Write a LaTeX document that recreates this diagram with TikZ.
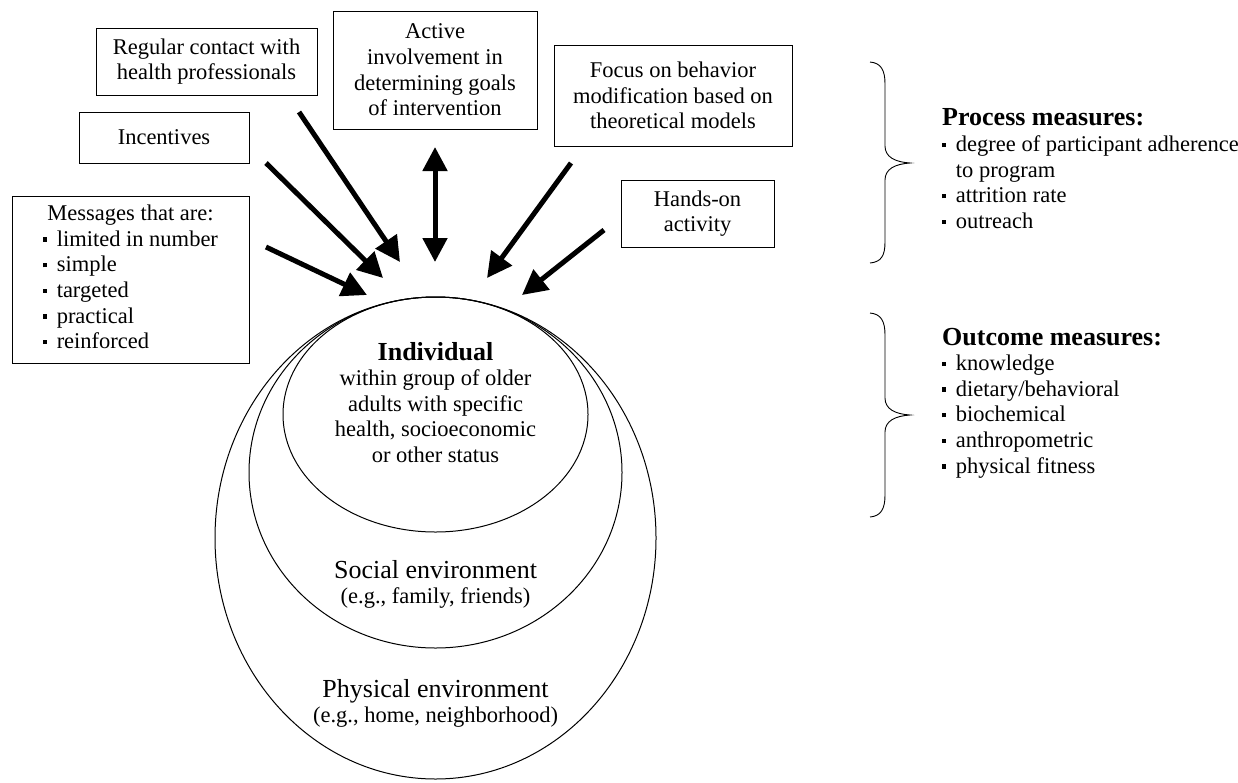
\documentclass[tikz,border=0pt]{standalone}
\usepackage{fontspec}
\setmainfont{Liberation Serif}
\usetikzlibrary{arrows.meta,shapes.geometric}
\newcommand\sqb{\rule[0.2em]{0.19em}{0.19em}\hspace{0.42em}}
\newcommand\hdsize{\fontsize{26}{26}\selectfont}
\begin{document}
\begin{tikzpicture}[x=1pt,y=-1pt,
  txt/.style={font=\fontsize{22.5}{25.6}\selectfont, inner sep=0pt},
  boxn/.style={draw, line width=0.9pt, txt, align=center},
  ring/.style={draw, line width=1pt, ellipse, inner sep=0pt},
  arr/.style={line width=5pt, -{Triangle[length=25pt,width=25pt]}},
  darr/.style={line width=5pt, {Triangle[length=24pt,width=24pt]}-{Triangle[length=24pt,width=24pt]}},
  curly/.style={line width=0.9pt}]
\useasboundingbox (0,0) rectangle (1238,782);

% boxes
\node[boxn, minimum width=221pt, minimum height=67pt] (reg) at (206.5,61.5)
  {Regular contact with\\health professionals};
\node[boxn, minimum width=170pt, minimum height=51pt] (inc) at (164,137.5) {Incentives};
\node[boxn, minimum width=237pt, minimum height=167pt] (msg) at (130.5,279.5)
  {\begin{tabular}{@{}l@{}}\multicolumn{1}{@{}c@{}}{Messages that are:}\\
   \sqb limited in number\\ \sqb simple\\ \sqb targeted\\ \sqb practical\\ \sqb reinforced\end{tabular}};
\node[boxn, minimum width=204pt, minimum height=118pt] (act) at (435,70)
  {Active\\involvement in\\determining goals\\of intervention};
\node[boxn, minimum width=238pt, minimum height=101pt] (foc) at (673,95.5)
  {Focus on behavior\\modification based on\\theoretical models};
\node[boxn, minimum width=153pt, minimum height=67pt] (hnd) at (697.5,213.5)
  {Hands-on\\activity};

% ellipses
\node[ring, minimum width=441pt, minimum height=482pt] (outer) at (435.5,538) {};
\node[ring, minimum width=373pt, minimum height=351pt] (middle) at (435.5,472.5) {};
\node[ring, minimum width=305pt, minimum height=235pt] (inner) at (435.5,414.5) {};

\node[txt, anchor=base] (indtxt) at (435.5,360)
  {\begin{tabular}[t]{@{}c@{}}{\hdsize\bfseries Individual}\\within group of older\\adults with specific\\health, socioeconomic\\or other status\end{tabular}};
\node[txt, anchor=base] (soctxt) at (435.5,578)
  {\begin{tabular}[t]{@{}c@{}}{\hdsize Social environment}\\(e.g., family, friends)\end{tabular}};
\node[txt, anchor=base] (phytxt) at (435.5,697)
  {\begin{tabular}[t]{@{}c@{}}{\hdsize Physical environment}\\(e.g., home, neighborhood)\end{tabular}};

% arrows
\coordinate (regS) at (299,112);  \coordinate (regT) at (400,262);
\coordinate (incS) at (266,163);  \coordinate (incT) at (383,278);
\coordinate (msgS) at (266,247);  \coordinate (msgT) at (367,295);
\coordinate (actS) at (435,147);  \coordinate (actT) at (435,262);
\coordinate (focS) at (571,163);  \coordinate (focT) at (487,278);
\coordinate (hndS) at (604,230);  \coordinate (hndT) at (522,295);
\draw[arr] (regS) -- (regT);
\draw[arr] (incS) -- (incT);
\draw[arr] (msgS) -- (msgT);
\draw[darr] (actS) -- (actT);
\draw[arr] (focS) -- (focT);
\draw[arr] (hndS) -- (hndT);

% braces
\draw[curly] (870,62) .. controls (881,63) and (885,70) .. (885,84) -- (885,146)
  .. controls (885,157) and (895,162) .. (910,163)
  .. controls (895,164) and (885,169) .. (885,180) -- (885,242)
  .. controls (885,256) and (881,262) .. (870,263);
\draw[curly] (870,313) .. controls (881,314) and (885,321) .. (885,335) -- (885,398)
  .. controls (885,409) and (895,414) .. (910,415)
  .. controls (895,416) and (885,421) .. (885,432) -- (885,495)
  .. controls (885,509) and (881,516) .. (870,517);

% measures
\node[txt, anchor=base west] (proc) at (942,125)
  {\begin{tabular}[t]{@{}l@{}}{\hdsize\bfseries Process measures:}\\[1pt]
   \sqb degree of participant adherence\\ \hphantom{\sqb}to program\\ \sqb attrition rate\\ \sqb outreach\end{tabular}};
\node[txt, anchor=base west] (outc) at (942,345)
  {\begin{tabular}[t]{@{}l@{}}{\hdsize\bfseries Outcome measures:}\\
   \sqb knowledge\\ \sqb dietary/behavioral\\ \sqb biochemical\\ \sqb anthropometric\\ \sqb physical fitness\end{tabular}};
\end{tikzpicture}
\end{document}
